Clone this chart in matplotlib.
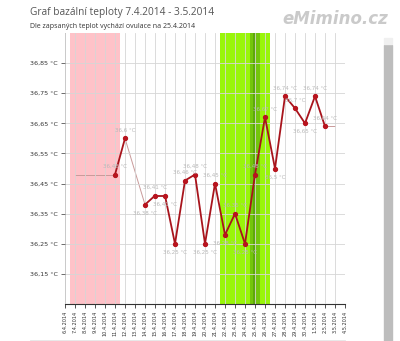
import matplotlib
matplotlib.use("Agg")
import matplotlib.pyplot as plt
from matplotlib.patches import Rectangle
from matplotlib.lines import Line2D
import datetime as dt

# data
axis_start = dt.date(2014, 4, 6)
axis_end = dt.date(2014, 5, 4)
cycle_start = dt.date(2014, 4, 7)
cycle_end = dt.date(2014, 5, 3)
period_days = ["7.4.2014", "11.4.2014"]
fertile_days = ["22.4.2014", "26.4.2014"]
ovulation_day = "25.4.2014"

meas_dates = ["11.4.2014", "12.4.2014", "14.4.2014", "15.4.2014", "16.4.2014",
              "17.4.2014", "18.4.2014", "19.4.2014", "20.4.2014", "21.4.2014",
              "22.4.2014", "23.4.2014", "24.4.2014", "25.4.2014", "26.4.2014",
              "27.4.2014", "28.4.2014", "29.4.2014", "30.4.2014", "1.5.2014",
              "2.5.2014"]
temps = [36.48, 36.60, 36.38, 36.41, 36.41, 36.25, 36.46, 36.48, 36.25, 36.45,
         36.28, 36.35, 36.25, 36.48, 36.67, 36.50, 36.74, 36.70, 36.65, 36.74,
         36.64]
# where the value label sits: a = above, b = below
label_side = ["a", "a", "b", "a", "b", "b", "a", "a", "b", "a",
              "b", "a", "b", "a", "a", "b", "a", "a", "b", "a", "a"]
y_ticks = [36.15, 36.25, 36.35, 36.45, 36.55, 36.65, 36.75, 36.85]


def parse(s):
    d, m, y = s.split(".")
    return dt.date(int(y), int(m), int(d))


def idx(d):
    return (d - axis_start).days


n_days = idx(axis_end)
x_labels = [(axis_start + dt.timedelta(days=i)) for i in range(n_days + 1)]
x_labels = ["%d.%d.%d" % (d.day, d.month, d.year) for d in x_labels]
xs = [idx(parse(s)) for s in meas_dates]

fig = plt.figure(figsize=(4, 3.41), dpi=100)
ax = fig.add_axes([65 / 400, 1 - 304 / 341, 280 / 400, 271 / 341])

# bands
p0, p1 = idx(parse(period_days[0])), idx(parse(period_days[1]))
ax.axvspan(p0 - 0.5, p1 + 0.5, color="#ffc2c8", lw=0, zorder=0)
f0, f1 = idx(parse(fertile_days[0])), idx(parse(fertile_days[1]))
ax.axvspan(f0 - 0.5, f1 + 0.5, color="#99f50a", lw=0, zorder=0)
o = idx(parse(ovulation_day))
ax.axvspan(o - 0.5, o + 0.5, color="#74c60c", lw=0, zorder=0.5)
ax.axvspan(o - 0.25, o + 0.05, color="#5ea80a", lw=0, zorder=0.6)

# thin connecting lines (gaps and cycle edges)
thin = dict(color="#c99a9a", lw=0.7, zorder=2)
ax.plot([idx(cycle_start), xs[0]], [temps[0], temps[0]], **thin)
ax.plot([xs[-1], idx(cycle_end)], [temps[-1], temps[-1]], **thin)
for i in range(len(xs) - 1):
    if xs[i + 1] - xs[i] > 1:
        ax.plot(xs[i:i + 2], temps[i:i + 2], **thin)
    else:
        ax.plot(xs[i:i + 2], temps[i:i + 2], color="#a8141c", lw=1.3,
                zorder=3, solid_capstyle="round")
ax.plot(xs, temps, "o", color="#b8141e", ms=2.8, zorder=4)

for x, t, s in zip(xs, temps, label_side):
    txt = ("%g" % t).replace(".", ",") + " °C"
    dy = 6 if s == "a" else -6
    ax.annotate(txt, (x, t), xytext=(0, dy), textcoords="offset points",
                ha="center", va="center", fontsize=4, color="#b8b8b8",
                zorder=5)

ax.set_xlim(0, n_days)
ax.set_ylim(36.05, 36.95)
ax.set_xticks(range(n_days + 1))
ax.set_xticklabels(x_labels, rotation=90, fontsize=3.6, color="#333333")
ax.set_yticks(y_ticks)
ax.set_yticklabels([("%.2f" % v).replace(".", ",") + " °C" for v in y_ticks],
                   fontsize=4.6, color="#333333")
ax.grid(True, color="#d6d6d6", lw=0.6, zorder=1)
ax.set_axisbelow(False)
for sp in ["top", "right"]:
    ax.spines[sp].set_visible(False)
ax.spines["left"].set_color("#7a7a7a")
ax.spines["left"].set_linewidth(0.6)
ax.spines["bottom"].set_color("#333333")
ax.spines["bottom"].set_linewidth(0.8)
ax.tick_params(axis="x", length=3, width=0.6, color="#333333", pad=2)
ax.tick_params(axis="y", length=3, width=0.6, color="#555555", pad=2)
# keep grid lines under the plotted series
for gl in ax.get_xgridlines() + ax.get_ygridlines():
    gl.set_zorder(1)

fig.text(30 / 400, 1 - 12 / 341, "Graf bazální teploty 7.4.2014 - 3.5.2014",
         fontsize=7.3, color="#555555", va="center", family="Open Sans")
fig.text(30 / 400, 1 - 26 / 341,
         "Dle zapsaných teplot vychází ovulace na 25.4.2014",
         fontsize=5, color="#333333", va="center", family="Open Sans")
fig.text(388 / 400, 1 - 19 / 341, "eMimino.cz", fontsize=12, color="#cacaca",
         ha="right", va="center", fontweight="bold", fontstyle="italic",
         family="DejaVu Sans")

# scrollbar and bottom rule
fig.patches.append(Rectangle((384 / 400, 0), 8 / 400, 1 - 45 / 341,
                             transform=fig.transFigure, color="#bdbdbd"))
fig.patches.append(Rectangle((384 / 400, 1 - 44 / 341), 8 / 400, 6 / 341,
                             transform=fig.transFigure, color="#f0f0f0"))
fig.lines.append(Line2D([30 / 400, 345 / 400], [1 - 340 / 341] * 2,
                        transform=fig.transFigure, color="#e4e4e4", lw=0.6))

fig.savefig("out.png", dpi=100)
